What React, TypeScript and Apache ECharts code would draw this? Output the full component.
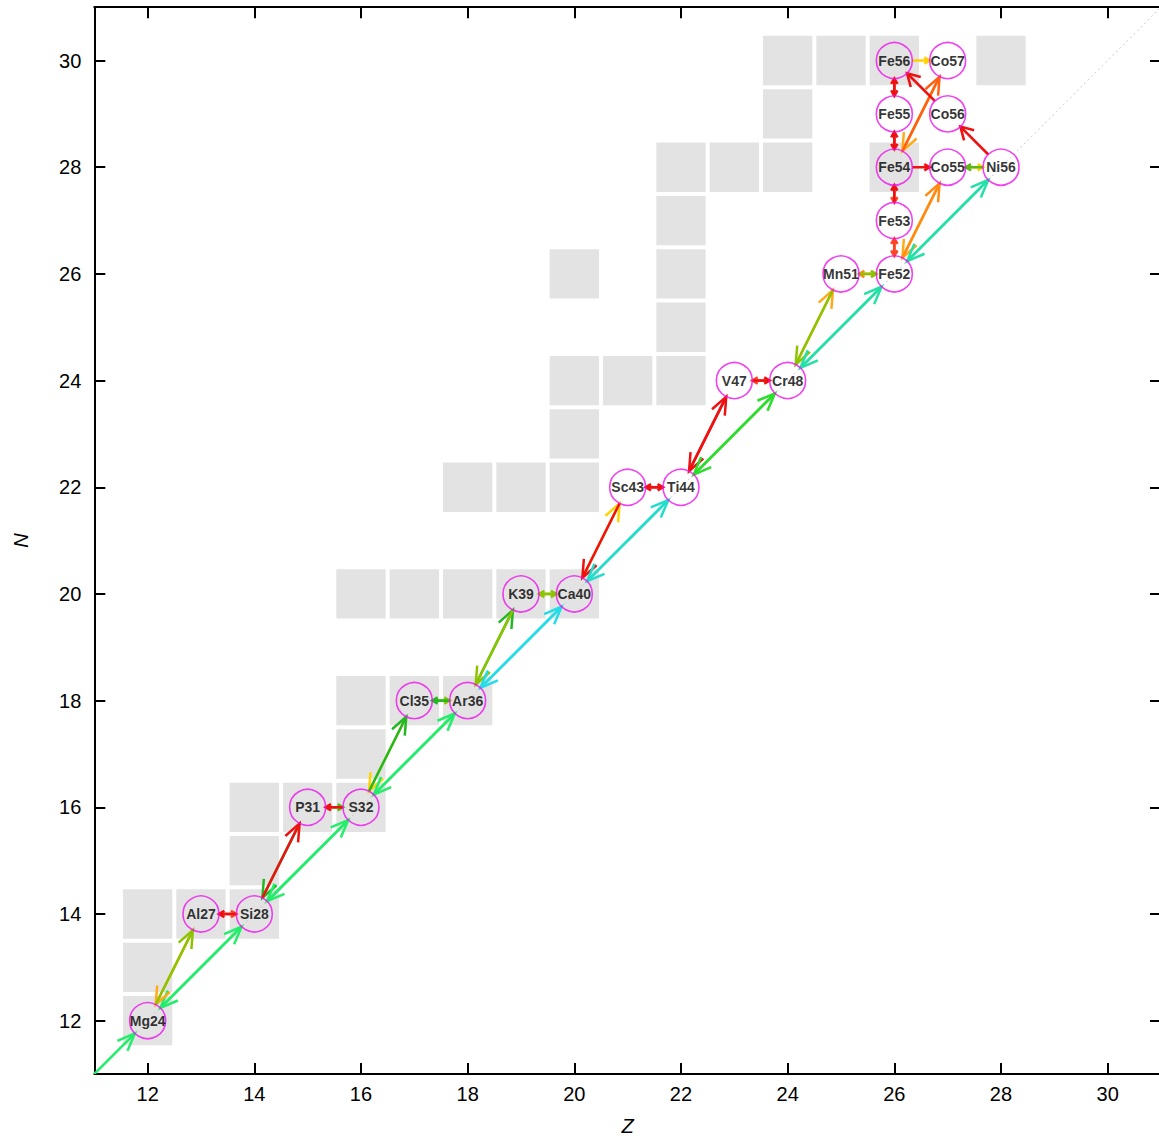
import React, { useEffect, useRef } from "react";
import * as echarts from "echarts";

// ---------- data ----------
const zTicks = [12, 14, 16, 18, 20, 22, 24, 26, 28, 30];
const nTicks = [12, 14, 16, 18, 20, 22, 24, 26, 28, 30];

// grey cells (Z, N)
const stableCells: [number, number][] = [
  [24, 30], [25, 30], [26, 30], [28, 30],
  [24, 29],
  [22, 28], [23, 28], [24, 28], [26, 28],
  [22, 27],
  [20, 26], [22, 26],
  [22, 25],
  [20, 24], [21, 24], [22, 24],
  [20, 23],
  [18, 22], [19, 22], [20, 22],
  [16, 20], [17, 20], [18, 20], [19, 20], [20, 20],
  [16, 18], [17, 18], [18, 18],
  [16, 17],
  [14, 16], [15, 16], [16, 16],
  [14, 15],
  [12, 14], [13, 14], [14, 14],
  [12, 13],
  [12, 12],
];

// network nodes
const nodeNames = [
  "Ne20", "Mg24", "Al27", "Si28", "P31", "S32", "Cl35", "Ar36", "K39", "Ca40",
  "Sc43", "Ti44", "V47", "Cr48", "Mn51", "Fe52", "Fe53", "Fe54", "Fe55", "Fe56",
  "Co55", "Co56", "Co57", "Ni56",
];
const nodeZ = [10, 12, 13, 14, 15, 16, 17, 18, 19, 20, 21, 22, 23, 24, 25, 26, 26, 26, 26, 26, 27, 27, 27, 28];
const nodeN = [10, 12, 14, 14, 16, 16, 18, 18, 20, 20, 22, 22, 24, 24, 26, 26, 27, 28, 29, 30, 28, 29, 30, 28];

// rate colour scale (index = rate level)
const rateColors = [
  "#ee1111", "#ff4422", "#ff6014", "#ff8a14", "#ffaa18", "#ffd200",
  "#8cc400", "#5cb814", "#22b822", "#2ade2a", "#22ee6a", "#22e0a6",
  "#22ddcc", "#22dde8",
];

// directed reactions: from, to, rate level (later entries drawn on top)
const reactions: [string, string, number][] = [
  ["Ne20", "Mg24", 10],
  ["Si28", "Mg24", 10], ["Mg24", "Si28", 10],
  ["Al27", "Mg24", 4], ["Mg24", "Al27", 6],
  ["Al27", "Si28", 1], ["Si28", "Al27", 0],
  ["P31", "Si28", 8], ["Si28", "P31", 0],
  ["S32", "Si28", 10], ["Si28", "S32", 10],
  ["P31", "S32", 7], ["S32", "P31", 0],
  ["Cl35", "S32", 5], ["S32", "Cl35", 8],
  ["Ar36", "S32", 10], ["S32", "Ar36", 10],
  ["Cl35", "Ar36", 6], ["Ar36", "Cl35", 8],
  ["Ar36", "K39", 8], ["K39", "Ar36", 6],
  ["Ca40", "Ar36", 13], ["Ar36", "Ca40", 13],
  ["Ca40", "K39", 6], ["K39", "Ca40", 6],
  ["Ca40", "Sc43", 5], ["Sc43", "Ca40", 0],
  ["Ti44", "Ca40", 12], ["Ca40", "Ti44", 12],
  ["Ti44", "Sc43", 0], ["Sc43", "Ti44", 0],
  ["V47", "Ti44", 0], ["Ti44", "V47", 0],
  ["Cr48", "Ti44", 9], ["Ti44", "Cr48", 9],
  ["Cr48", "V47", 1], ["V47", "Cr48", 0],
  ["Cr48", "Mn51", 4], ["Mn51", "Cr48", 6],
  ["Fe52", "Cr48", 11], ["Cr48", "Fe52", 11],
  ["Fe52", "Mn51", 3], ["Mn51", "Fe52", 6],
  ["Fe53", "Fe52", 1], ["Fe52", "Fe53", 1],
  ["Fe54", "Fe53", 1], ["Fe53", "Fe54", 0],
  ["Fe55", "Fe54", 0], ["Fe54", "Fe55", 0],
  ["Fe56", "Fe55", 0], ["Fe55", "Fe56", 0],
  ["Fe54", "Co55", 0],
  ["Co55", "Ni56", 5], ["Ni56", "Co55", 7],
  ["Co55", "Fe52", 4], ["Fe52", "Co55", 3],
  ["Ni56", "Fe52", 11], ["Fe52", "Ni56", 11],
  ["Co57", "Fe54", 4], ["Fe54", "Co57", 2],
  ["Ni56", "Co56", 0],
  ["Co56", "Fe56", 0],
  ["Fe56", "Co57", 5],
];

const diagonal = [[11, 11], [31, 31]];

// ---------- styles ----------
const FONT = "'Liberation Sans', Arial, Helvetica, sans-serif";
const NODE_SIZE = 36;
const CELL_FRACTION = 0.925;

export default function App() {
  const ref = useRef<HTMLDivElement>(null);

  useEffect(() => {
    if (!ref.current) return;
    const chart = echarts.init(ref.current, undefined, { renderer: "svg" });

    const idx = (name: string) => nodeNames.indexOf(name);
    const arrowData = reactions.map(([f, t, lvl]) => {
      const a = idx(f);
      const b = idx(t);
      return [nodeZ[a], nodeN[a], nodeZ[b], nodeN[b], lvl];
    });
    const nodeData = nodeNames.map((name, i) => ({ name, value: [nodeZ[i], nodeN[i]] }));

    const axisLineStyle = { color: "#000", width: 2 };
    const tickStyle = { color: "#000", width: 2 };

    const option: any = {
      animation: false,
      backgroundColor: "#ffffff",
      grid: {
        left: 94.3, top: 7.2, width: 1066.7, height: 1066.8,
        containLabel: false, outerBoundsMode: "none",
      },
      xAxis: [
        {
          type: "value", min: 11, max: 31, position: "bottom",
          axisLine: { show: true, onZero: false, lineStyle: axisLineStyle },
          axisTick: { show: true, inside: true, length: 11, lineStyle: tickStyle, customValues: zTicks },
          axisLabel: { show: true, customValues: zTicks, fontSize: 20, color: "#000", margin: 10, fontFamily: FONT },
          splitLine: { show: false },
          name: "Z", nameLocation: "middle", nameGap: 42,
          nameTextStyle: { fontStyle: "italic", fontSize: 20, color: "#000", fontFamily: FONT },
        },
        {
          type: "value", min: 11, max: 31, position: "top",
          axisLine: { show: true, onZero: false, lineStyle: axisLineStyle },
          axisTick: { show: true, inside: true, length: 11, lineStyle: tickStyle, customValues: zTicks },
          axisLabel: { show: false },
          splitLine: { show: false },
        },
      ],
      yAxis: [
        {
          type: "value", min: 11, max: 31, position: "left",
          axisLine: { show: true, onZero: false, lineStyle: axisLineStyle },
          axisTick: { show: true, inside: true, length: 11, lineStyle: tickStyle, customValues: nTicks },
          axisLabel: { show: true, customValues: nTicks, fontSize: 20, color: "#000", margin: 13, fontFamily: FONT },
          splitLine: { show: false },
          name: "N", nameLocation: "middle", nameGap: 63, nameRotate: 90,
          nameTextStyle: { fontStyle: "italic", fontSize: 20, color: "#000", fontFamily: FONT },
        },
        {
          type: "value", min: 11, max: 31, position: "right",
          axisLine: { show: true, onZero: false, lineStyle: axisLineStyle },
          axisTick: { show: true, inside: true, length: 11, lineStyle: tickStyle, customValues: nTicks },
          axisLabel: { show: false },
          splitLine: { show: false },
        },
      ],
      series: [
        {
          type: "custom", name: "cells", xAxisIndex: 0, yAxisIndex: 0, z: 1, silent: true,
          data: stableCells,
          renderItem: (_p: any, api: any) => {
            const c = api.coord([api.value(0), api.value(1)]);
            const s = api.size([1, 1]);
            const w = s[0] * CELL_FRACTION;
            const h = s[1] * CELL_FRACTION;
            return {
              type: "rect",
              shape: { x: c[0] - w / 2, y: c[1] - h / 2, width: w, height: h },
              style: { fill: "#e3e3e3" },
            };
          },
        },
        {
          type: "line", name: "N=Z", xAxisIndex: 0, yAxisIndex: 0, z: 2, silent: true,
          data: diagonal, symbol: "none",
          lineStyle: { color: "#c8c8c8", width: 1, type: [2, 3] },
        },
        {
          type: "custom", name: "reactions", xAxisIndex: 0, yAxisIndex: 0, z: 3, silent: true, clip: true,
          data: arrowData,
          renderItem: (_p: any, api: any) => {
            const p1 = api.coord([api.value(0), api.value(1)]);
            const p2 = api.coord([api.value(2), api.value(3)]);
            const color = rateColors[api.value(4)];
            const dx = p2[0] - p1[0];
            const dy = p2[1] - p1[1];
            const L = Math.hypot(dx, dy);
            const ux = dx / L;
            const uy = dy / L;
            const r = NODE_SIZE / 2;
            const sx = p1[0] + ux * r;
            const sy = p1[1] + uy * r;
            const ex = p2[0] - ux * r;
            const ey = p2[1] - uy * r;
            const len = L - 2 * r;
            const hl = Math.min(19, len * 0.36);
            const ang = (len < 40 ? 30 : 22) * Math.PI / 180;
            const bx = -ux;
            const by = -uy;
            const rot = (a: number) => [
              ex + hl * (bx * Math.cos(a) - by * Math.sin(a)),
              ey + hl * (bx * Math.sin(a) + by * Math.cos(a)),
            ];
            const lw = len < 40 ? 2.6 : 2.5;
            return {
              type: "group",
              children: [
                { type: "line", shape: { x1: sx, y1: sy, x2: ex, y2: ey }, style: { stroke: color, lineWidth: lw } },
                {
                  type: "polyline",
                  shape: { points: [rot(ang), [ex, ey], rot(-ang)] },
                  style: { stroke: color, lineWidth: lw, fill: null },
                },
              ],
            };
          },
        },
        {
          type: "scatter", name: "nuclei", xAxisIndex: 0, yAxisIndex: 0, z: 4, silent: true, clip: true,
          data: nodeData, symbol: "circle", symbolSize: NODE_SIZE,
          itemStyle: { color: "rgba(255,255,255,0)", borderColor: "#ee11ee", borderWidth: 1.6 },
          label: {
            show: true, position: "inside", formatter: "{b}", color: "#000",
            fontSize: 14, fontWeight: "bold", fontFamily: FONT,
          },
        },
      ],
    };

    chart.setOption(option);
    return () => chart.dispose();
  }, []);

  return (
    <div
      ref={ref}
      style={{ position: "absolute", left: 0, top: 0, width: 1159, height: 1138, background: "#fff" }}
    />
  );
}
